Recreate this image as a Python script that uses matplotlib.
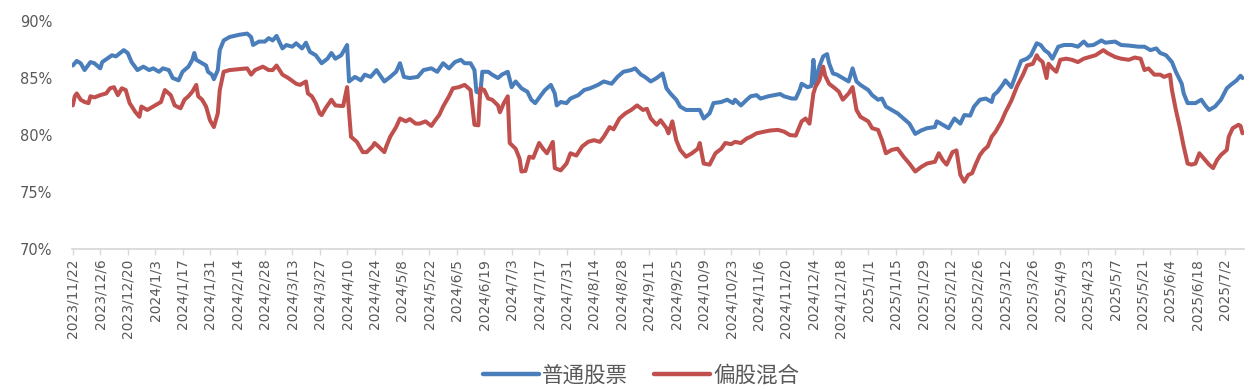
import pandas as pd
import matplotlib.pyplot as plt
import matplotlib.dates as mdates
from matplotlib.ticker import FuncFormatter

plt.rcParams['font.family'] = ['Noto Sans CJK SC', 'DejaVu Sans']

OUT_PNG = "out.png"

# 普通股票 (estimated equity position, %)
stock_dates = [
    "2023-11-22", "2023-11-24", "2023-11-26", "2023-11-28", "2023-12-01", "2023-12-03",
    "2023-12-06", "2023-12-07", "2023-12-12", "2023-12-14", "2023-12-18", "2023-12-20",
    "2023-12-22", "2023-12-25", "2023-12-28", "2023-12-31", "2024-01-02", "2024-01-05",
    "2024-01-07", "2024-01-10", "2024-01-12", "2024-01-15", "2024-01-17", "2024-01-20",
    "2024-01-22", "2024-01-23", "2024-01-24", "2024-01-26", "2024-01-29", "2024-01-30",
    "2024-02-01", "2024-02-02", "2024-02-04", "2024-02-05", "2024-02-07", "2024-02-10",
    "2024-02-15", "2024-02-19", "2024-02-21", "2024-02-22", "2024-02-25", "2024-02-28",
    "2024-03-01", "2024-03-03", "2024-03-05", "2024-03-08", "2024-03-10", "2024-03-13",
    "2024-03-15", "2024-03-18", "2024-03-20", "2024-03-22", "2024-03-25", "2024-03-28",
    "2024-03-31", "2024-04-02", "2024-04-04", "2024-04-07", "2024-04-10", "2024-04-11",
    "2024-04-14", "2024-04-17", "2024-04-19", "2024-04-22", "2024-04-25", "2024-04-29",
    "2024-05-02", "2024-05-05", "2024-05-07", "2024-05-09", "2024-05-12", "2024-05-16",
    "2024-05-19", "2024-05-23", "2024-05-26", "2024-05-29", "2024-06-01", "2024-06-04",
    "2024-06-07", "2024-06-09", "2024-06-12", "2024-06-14", "2024-06-15", "2024-06-17",
    "2024-06-18", "2024-06-21", "2024-06-23", "2024-06-26", "2024-06-28", "2024-07-01",
    "2024-07-03", "2024-07-05", "2024-07-08", "2024-07-11", "2024-07-13", "2024-07-15",
    "2024-07-18", "2024-07-20", "2024-07-23", "2024-07-25", "2024-07-26", "2024-07-28",
    "2024-07-31", "2024-08-02", "2024-08-06", "2024-08-09", "2024-08-12", "2024-08-16",
    "2024-08-19", "2024-08-23", "2024-08-26", "2024-08-29", "2024-09-02", "2024-09-04",
    "2024-09-07", "2024-09-09", "2024-09-12", "2024-09-15", "2024-09-18", "2024-09-20",
    "2024-09-22", "2024-09-25", "2024-09-27", "2024-09-30", "2024-10-03", "2024-10-07",
    "2024-10-09", "2024-10-12", "2024-10-14", "2024-10-18", "2024-10-21", "2024-10-24",
    "2024-10-25", "2024-10-28", "2024-10-31", "2024-11-02", "2024-11-05", "2024-11-07",
    "2024-11-11", "2024-11-14", "2024-11-17", "2024-11-19", "2024-11-23", "2024-11-25",
    "2024-11-27", "2024-11-28", "2024-12-01", "2024-12-03", "2024-12-04", "2024-12-05",
    "2024-12-07", "2024-12-09", "2024-12-11", "2024-12-12", "2024-12-14", "2024-12-16",
    "2024-12-19", "2024-12-22", "2024-12-24", "2024-12-26", "2024-12-28", "2025-01-01",
    "2025-01-03", "2025-01-06", "2025-01-08", "2025-01-10", "2025-01-13", "2025-01-16",
    "2025-01-19", "2025-01-22", "2025-01-25", "2025-01-28", "2025-01-31", "2025-02-04",
    "2025-02-05", "2025-02-08", "2025-02-11", "2025-02-14", "2025-02-17", "2025-02-19",
    "2025-02-22", "2025-02-24", "2025-02-27", "2025-03-02", "2025-03-05", "2025-03-06",
    "2025-03-08", "2025-03-11", "2025-03-12", "2025-03-15", "2025-03-18", "2025-03-20",
    "2025-03-23", "2025-03-25", "2025-03-28", "2025-03-30", "2025-04-01", "2025-04-03",
    "2025-04-05", "2025-04-08", "2025-04-11", "2025-04-15", "2025-04-18", "2025-04-21",
    "2025-04-23", "2025-04-26", "2025-04-30", "2025-05-02", "2025-05-07", "2025-05-10",
    "2025-05-14", "2025-05-19", "2025-05-22", "2025-05-25", "2025-05-28", "2025-05-30",
    "2025-06-02", "2025-06-05", "2025-06-07", "2025-06-10", "2025-06-11", "2025-06-13",
    "2025-06-17", "2025-06-20", "2025-06-22", "2025-06-24", "2025-06-27", "2025-06-30",
    "2025-07-03", "2025-07-05", "2025-07-08", "2025-07-10", "2025-07-11",
]
stock_vals = [
    86.1, 86.5, 86.3, 85.7, 86.4, 86.3,
    85.85, 86.4, 87.0, 86.9, 87.45, 87.2,
    86.4, 85.7, 86.0, 85.7, 85.85, 85.55,
    85.85, 85.7, 85.0, 84.8, 85.55, 86.0,
    86.6, 87.2, 86.6, 86.4, 86.1, 85.55,
    85.3, 84.9, 85.7, 87.45, 88.3, 88.6,
    88.8, 88.9, 88.6, 87.9, 88.2, 88.2,
    88.5, 88.3, 88.7, 87.6, 87.9, 87.75,
    88.05, 87.6, 88.1, 87.3, 87.0, 86.3,
    86.7, 87.2, 86.7, 87.0, 87.9, 84.7,
    85.1, 84.8, 85.3, 85.1, 85.7, 84.7,
    85.1, 85.55, 86.3, 85.1, 85.0, 85.1,
    85.7, 85.85, 85.55, 86.3, 85.85, 86.4,
    86.6, 86.3, 86.3, 85.7, 83.8, 83.65,
    85.55, 85.55, 85.3, 85.0, 85.3, 85.55,
    84.2, 84.7, 84.1, 83.8, 83.1, 82.8,
    83.5, 83.95, 84.4, 83.65, 82.6, 82.9,
    82.8, 83.2, 83.5, 83.95, 84.1, 84.4,
    84.7, 84.5, 85.1, 85.55, 85.7, 85.85,
    85.3, 85.1, 84.7, 85.0, 85.4, 84.1,
    83.65, 83.1, 82.5, 82.2, 82.2, 82.2,
    81.45, 81.9, 82.8, 82.9, 83.1, 82.8,
    83.1, 82.6, 83.1, 83.4, 83.5, 83.2,
    83.4, 83.5, 83.6, 83.4, 83.2, 83.2,
    83.95, 84.5, 84.2, 84.3, 86.6, 84.5,
    86.0, 86.9, 87.1, 86.3, 85.4, 85.3,
    85.0, 84.7, 85.85, 84.7, 84.4, 83.95,
    83.5, 83.1, 83.2, 82.5, 82.2, 81.9,
    81.45, 81.0, 80.1, 80.4, 80.6, 80.7,
    81.2, 80.9, 80.6, 81.45, 81.0, 81.75,
    81.7, 82.5, 83.1, 83.2, 82.9, 83.5,
    83.8, 84.5, 84.8, 84.2, 85.6, 86.5,
    86.7, 87.0, 88.05, 87.9, 87.45, 87.2,
    86.7, 87.75, 87.9, 87.9, 87.75, 88.2,
    87.85, 87.9, 88.3, 88.1, 88.2, 87.9,
    87.85, 87.75, 87.75, 87.45, 87.6, 87.2,
    87.0, 86.4, 85.55, 84.5, 83.65, 82.8,
    82.8, 83.1, 82.6, 82.2, 82.5, 83.1,
    84.1, 84.4, 84.8, 85.2, 85.0,
]

# 偏股混合 (estimated equity position, %)
mixed_dates = [
    "2023-11-22", "2023-11-23", "2023-11-24", "2023-11-26", "2023-11-28", "2023-11-30",
    "2023-12-01", "2023-12-03", "2023-12-06", "2023-12-09", "2023-12-11", "2023-12-13",
    "2023-12-15", "2023-12-17", "2023-12-19", "2023-12-21", "2023-12-24", "2023-12-26",
    "2023-12-27", "2023-12-30", "2024-01-02", "2024-01-06", "2024-01-08", "2024-01-11",
    "2024-01-13", "2024-01-16", "2024-01-18", "2024-01-20", "2024-01-22", "2024-01-24",
    "2024-01-25", "2024-01-27", "2024-01-29", "2024-01-31", "2024-02-02", "2024-02-04",
    "2024-02-05", "2024-02-07", "2024-02-10", "2024-02-19", "2024-02-21", "2024-02-23",
    "2024-02-27", "2024-03-01", "2024-03-03", "2024-03-05", "2024-03-08", "2024-03-11",
    "2024-03-15", "2024-03-17", "2024-03-20", "2024-03-21", "2024-03-23", "2024-03-25",
    "2024-03-27", "2024-03-28", "2024-03-30", "2024-04-02", "2024-04-04", "2024-04-07",
    "2024-04-08", "2024-04-10", "2024-04-12", "2024-04-15", "2024-04-18", "2024-04-20",
    "2024-04-23", "2024-04-24", "2024-04-26", "2024-04-29", "2024-04-30", "2024-05-02",
    "2024-05-05", "2024-05-07", "2024-05-10", "2024-05-12", "2024-05-15", "2024-05-17",
    "2024-05-20", "2024-05-23", "2024-05-25", "2024-05-27", "2024-05-29", "2024-06-01",
    "2024-06-03", "2024-06-06", "2024-06-09", "2024-06-12", "2024-06-14", "2024-06-16",
    "2024-06-17", "2024-06-19", "2024-06-21", "2024-06-23", "2024-06-26", "2024-06-27",
    "2024-06-29", "2024-07-01", "2024-07-02", "2024-07-05", "2024-07-07", "2024-07-08",
    "2024-07-10", "2024-07-12", "2024-07-14", "2024-07-17", "2024-07-19", "2024-07-21",
    "2024-07-24", "2024-07-25", "2024-07-28", "2024-07-31", "2024-08-02", "2024-08-05",
    "2024-08-08", "2024-08-11", "2024-08-14", "2024-08-17", "2024-08-19", "2024-08-22",
    "2024-08-24", "2024-08-27", "2024-08-30", "2024-09-02", "2024-09-05", "2024-09-08",
    "2024-09-10", "2024-09-12", "2024-09-15", "2024-09-17", "2024-09-20", "2024-09-21",
    "2024-09-23", "2024-09-25", "2024-09-27", "2024-09-30", "2024-10-03", "2024-10-06",
    "2024-10-07", "2024-10-09", "2024-10-12", "2024-10-15", "2024-10-18", "2024-10-20",
    "2024-10-23", "2024-10-25", "2024-10-28", "2024-10-31", "2024-11-02", "2024-11-05",
    "2024-11-09", "2024-11-12", "2024-11-16", "2024-11-19", "2024-11-22", "2024-11-25",
    "2024-11-28", "2024-11-30", "2024-12-02", "2024-12-04", "2024-12-05", "2024-12-07",
    "2024-12-09", "2024-12-10", "2024-12-12", "2024-12-15", "2024-12-17", "2024-12-19",
    "2024-12-22", "2024-12-24", "2024-12-26", "2024-12-28", "2025-01-01", "2025-01-03",
    "2025-01-06", "2025-01-08", "2025-01-10", "2025-01-13", "2025-01-16", "2025-01-19",
    "2025-01-22", "2025-01-25", "2025-01-28", "2025-01-31", "2025-02-04", "2025-02-06",
    "2025-02-08", "2025-02-10", "2025-02-13", "2025-02-15", "2025-02-17", "2025-02-19",
    "2025-02-21", "2025-02-23", "2025-02-25", "2025-02-27", "2025-03-01", "2025-03-03",
    "2025-03-05", "2025-03-07", "2025-03-10", "2025-03-12", "2025-03-15", "2025-03-18",
    "2025-03-21", "2025-03-23", "2025-03-26", "2025-03-28", "2025-03-29", "2025-03-31",
    "2025-04-02", "2025-04-03", "2025-04-05", "2025-04-07", "2025-04-09", "2025-04-12",
    "2025-04-15", "2025-04-18", "2025-04-21", "2025-04-24", "2025-04-27", "2025-05-01",
    "2025-05-03", "2025-05-07", "2025-05-10", "2025-05-14", "2025-05-17", "2025-05-20",
    "2025-05-22", "2025-05-24", "2025-05-27", "2025-05-30", "2025-06-01", "2025-06-04",
    "2025-06-05", "2025-06-07", "2025-06-09", "2025-06-11", "2025-06-13", "2025-06-15",
    "2025-06-17", "2025-06-19", "2025-06-22", "2025-06-24", "2025-06-26", "2025-06-28",
    "2025-06-30", "2025-07-03", "2025-07-04", "2025-07-06", "2025-07-09", "2025-07-10",
    "2025-07-11",
]
mixed_vals = [
    82.6, 83.4, 83.65, 83.1, 82.9, 82.8,
    83.4, 83.3, 83.5, 83.65, 84.1, 84.2,
    83.5, 84.1, 83.95, 82.8, 82.0, 81.6,
    82.5, 82.2, 82.5, 82.9, 83.95, 83.5,
    82.6, 82.35, 83.1, 83.4, 83.8, 84.4,
    83.4, 83.1, 82.5, 81.3, 80.7, 81.9,
    83.95, 85.55, 85.7, 85.85, 85.3, 85.7,
    86.0, 85.7, 85.7, 86.1, 85.3, 85.0,
    84.5, 84.4, 84.7, 83.65, 83.4, 82.8,
    81.9, 81.75, 82.35, 83.1, 82.6, 82.55,
    82.55, 84.2, 79.85, 79.4, 78.5, 78.5,
    79.0, 79.3, 79.0, 78.5, 79.0, 79.85,
    80.7, 81.45, 81.2, 81.4, 81.0, 81.0,
    81.2, 80.8, 81.3, 81.75, 82.5, 83.4,
    84.1, 84.2, 84.4, 83.95, 80.9, 80.85,
    84.1, 83.95, 83.2, 83.1, 82.6, 82.0,
    82.8, 83.4, 79.3, 78.8, 77.95, 76.8,
    76.85, 78.1, 78.0, 79.3, 78.8, 78.4,
    79.4, 77.1, 76.9, 77.5, 78.4, 78.2,
    79.0, 79.4, 79.55, 79.4, 79.85, 80.7,
    80.5, 81.45, 81.9, 82.2, 82.6, 82.2,
    82.3, 81.45, 80.9, 81.3, 80.6, 80.15,
    81.2, 79.55, 78.7, 78.1, 78.4, 78.8,
    79.3, 77.5, 77.4, 78.4, 78.8, 79.3,
    79.2, 79.4, 79.3, 79.7, 79.85, 80.15,
    80.3, 80.4, 80.45, 80.3, 80.0, 79.95,
    81.2, 81.45, 81.0, 83.65, 84.2, 84.8,
    86.0, 85.2, 84.5, 84.1, 83.8, 83.1,
    83.65, 84.2, 82.2, 81.6, 81.2, 80.6,
    80.45, 79.55, 78.4, 78.7, 78.8, 78.1,
    77.5, 76.8, 77.2, 77.5, 77.65, 78.4,
    77.8, 77.4, 78.5, 78.65, 76.5, 75.9,
    76.5, 76.65, 77.5, 78.25, 78.7, 79.0,
    79.85, 80.3, 81.2, 82.0, 83.0, 84.3,
    85.3, 86.1, 86.25, 87.0, 86.7, 86.4,
    85.0, 86.25, 85.85, 85.55, 86.6, 86.7,
    86.6, 86.4, 86.7, 86.85, 87.0, 87.45,
    87.2, 86.85, 86.7, 86.6, 86.8, 86.7,
    85.7, 85.85, 85.3, 85.3, 85.1, 85.3,
    83.95, 82.2, 80.7, 79.0, 77.5, 77.4,
    77.5, 78.4, 77.8, 77.4, 77.1, 77.8,
    78.25, 78.7, 79.85, 80.6, 80.9, 80.8,
    80.15,
]

# axis settings
TICK_START = "2023-11-22"
TICK_END = "2025-07-02"
Y_TICKS = [70, 75, 80, 85, 90]

stock = pd.DataFrame({"date": pd.to_datetime(stock_dates), "val": stock_vals})
mixed = pd.DataFrame({"date": pd.to_datetime(mixed_dates), "val": mixed_vals})

tick_dates = pd.date_range(TICK_START, TICK_END, freq="14D")

fig = plt.figure(figsize=(12.57, 3.90), dpi=100)
ax = fig.add_axes([0.0573, 0.3615, 0.9327, 0.5845])

ax.plot(stock["date"], stock["val"], color="#4A7EBB", lw=2.9, label="普通股票",
        solid_joinstyle="round", solid_capstyle="round")
ax.plot(mixed["date"], mixed["val"], color="#C0504D", lw=2.9, label="偏股混合",
        solid_joinstyle="round", solid_capstyle="round")

ax.set_xlim(pd.Timestamp(TICK_START) - pd.Timedelta(days=0.4),
            pd.Timestamp("2025-07-12"))
ax.set_ylim(70, 90)
ax.set_yticks(Y_TICKS)
ax.yaxis.set_major_formatter(FuncFormatter(lambda v, p: f"{v:.0f}%"))

ax.set_xticks(tick_dates)
ax.xaxis.set_major_formatter(FuncFormatter(
    lambda v, p: "{d.year}/{d.month}/{d.day}".format(d=mdates.num2date(v))))

for s in ["top", "right", "left"]:
    ax.spines[s].set_visible(False)
ax.spines["bottom"].set_color("#D9D9D9")
ax.spines["bottom"].set_linewidth(1.3)

ax.tick_params(axis="y", length=0, pad=14, labelsize=10.5, labelcolor="#595959")
ax.tick_params(axis="x", length=4, width=1, color="#D9D9D9", pad=3,
               labelsize=10, labelcolor="#595959", labelrotation=90)
for lab in ax.get_xticklabels():
    lab.set_fontfamily(["DejaVu Sans"])
for lab in ax.get_yticklabels():
    lab.set_fontfamily(["DejaVu Sans"])

leg = fig.legend(loc="center", bbox_to_anchor=(0.51, 0.037), ncol=2, frameon=False,
                 fontsize=15.5, handlelength=2.6, handletextpad=0.15,
                 columnspacing=1.2)
for t in leg.get_texts():
    t.set_color("#595959")
for h in leg.get_lines():
    h.set_linewidth(3.2)

fig.savefig(OUT_PNG, dpi=100)
plt.close(fig)
